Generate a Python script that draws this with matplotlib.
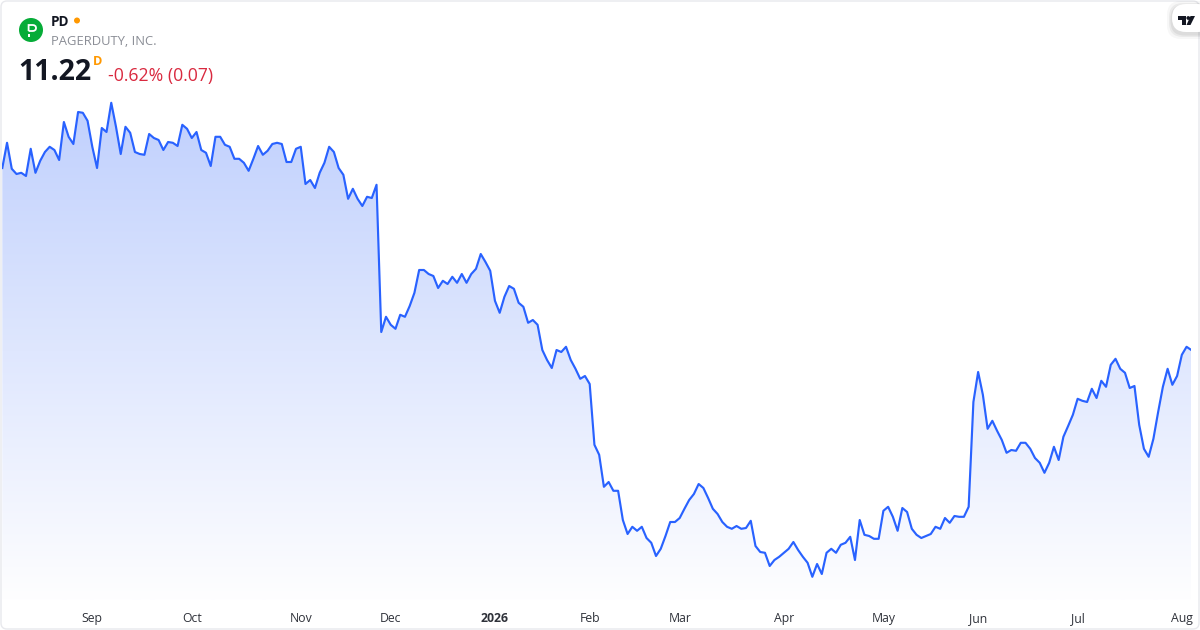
import numpy as np
import matplotlib
matplotlib.use("Agg")
import matplotlib.pyplot as plt
from matplotlib.patches import Circle, FancyBboxPatch, PathPatch, Polygon, Rectangle
from matplotlib.path import Path

plt.rcParams['font.family'] = ['Open Sans', 'DejaVu Sans']

ticker = "PD"
company = "PAGERDUTY, INC."
last_price = "11.22"
change_text = "-0.62% (0.07)"

# daily closes
closes_sep_nov = [
    15.77, 16.40, 15.75, 15.62, 15.65, 15.57, 16.25, 15.65, 15.95, 16.17,
    16.30, 16.22, 15.97, 16.92, 16.55, 16.37, 17.17, 17.15, 16.95, 16.30,
    15.77, 16.77, 16.67, 17.40, 16.80, 16.12, 16.80, 16.65, 16.17, 16.12,
    16.10, 16.62, 16.52, 16.47, 16.22, 16.42, 16.40, 16.32, 16.85, 16.75,
    16.52, 16.67, 16.22, 16.15, 15.82, 16.55, 16.55, 16.35, 16.30, 16.00,
    16.00, 15.90, 15.70, 16.00, 16.32, 16.10, 16.20, 16.37, 16.40, 16.37,
    15.92, 15.92, 16.25, 16.30, 15.37, 15.47, 15.27, 15.65, 15.90, 16.30,
    16.17, 15.77, 15.60, 15.00, 15.25, 15.00, 14.82, 15.05, 15.02, 15.35,
]
closes_dec_jan = [
    11.67, 12.05, 11.85, 11.75, 12.10, 12.05, 12.32, 12.65, 13.22, 13.22,
    13.12, 13.07, 12.77, 12.95, 12.87, 13.05, 12.90, 13.12, 12.90, 13.12,
    13.25, 13.62, 13.42, 13.20, 12.45, 12.15, 12.55, 12.82, 12.75, 12.40,
    12.30, 11.90, 11.97, 11.85, 11.22, 10.97, 10.77, 11.22, 11.17, 11.30,
    10.97, 10.75, 10.50, 10.57, 10.37,
]
closes_feb_may = [
    8.85, 8.60, 7.80, 7.92, 7.70, 7.70, 6.97, 6.62, 6.80, 6.70,
    6.80, 6.52, 6.40, 6.07, 6.25, 6.57, 6.92, 6.92, 7.02, 7.25,
    7.47, 7.62, 7.87, 7.77, 7.52, 7.25, 7.12, 6.92, 6.80, 6.75,
    6.82, 6.75, 6.77, 6.95, 6.32, 6.17, 6.15, 5.82, 5.97, 6.05,
    6.15, 6.25, 6.42, 6.22, 6.05, 5.90, 5.55, 5.87, 5.62, 6.15,
    6.25, 6.15, 6.35, 6.40, 6.55, 5.97, 6.97, 6.60, 6.57, 6.50,
    6.50, 7.20, 7.30, 7.05, 6.70, 7.27,
]
closes_may_aug = [
    7.17, 6.75, 6.60, 6.52, 6.57, 6.62, 6.80, 6.75, 7.02, 6.90,
    7.07, 7.05, 7.05, 7.30, 9.92, 10.67, 10.10, 9.25, 9.45, 9.20,
    8.97, 8.65, 8.72, 8.70, 8.90, 8.90, 8.75, 8.52, 8.40, 8.15,
    8.40, 8.80, 8.47, 9.05, 9.32, 9.60, 10.00, 9.95, 9.92, 10.25,
    10.02, 10.45, 10.30, 10.85, 11.00, 10.75, 10.65, 10.27, 10.32, 9.35,
    8.75, 8.55, 9.00, 9.67, 10.30, 10.75, 10.35, 10.57, 11.10, 11.30,
    11.22,
]
closes = closes_sep_nov + closes_dec_jan + closes_feb_may + closes_may_aug

# bar index where each month label sits
month_bars = [19, 40, 63, 82, 104, 124, 143, 165, 186, 206, 227, 249]
month_labels = ["Sep", "Oct", "Nov", "Dec", "2026", "Feb", "Mar", "Apr", "May", "Jun", "Jul", "Aug"]

LINE_COLOR = "#2962ff"
W, H = 1200, 630


def draw_area(ax, bars, values, bottom, y_top):
    """Line with a fill that fades from blue to almost white going down."""
    ramp = np.linspace(0, 1, 256)[:, None]
    top_rgb = np.array([192, 208, 253]) / 255
    low_rgb = np.array([254, 254, 255]) / 255
    image = top_rgb + (low_rgb - top_rgb) * ramp
    image = image[:, None, :].reshape(256, 1, 3)
    grad = ax.imshow(image, extent=(bars[0], bars[-1], bottom, y_top),
                     aspect="auto", origin="upper", zorder=1)
    verts = [(bars[0], bottom)] + list(zip(bars, values)) + [(bars[-1], bottom)]
    clip = Polygon(verts, closed=True, transform=ax.transData, facecolor="none", edgecolor="none")
    ax.add_patch(clip)
    grad.set_clip_path(clip)
    ax.plot(bars, values, color=LINE_COLOR, lw=1.55, solid_joinstyle="round", zorder=3)


def draw_logo(ov):
    """Green PagerDuty disc with the outlined P and its dot."""
    ov.add_patch(Circle((31, 30), 12, facecolor="#06ac38", edgecolor="none"))
    bowl = Path([(28.6, 31), (28.6, 25), (32.5, 25), (36, 25), (36, 28), (36, 31), (32.5, 31), (28.6, 31)],
                [Path.MOVETO, Path.LINETO, Path.LINETO, Path.CURVE3, Path.CURVE3,
                 Path.CURVE3, Path.CURVE3, Path.LINETO])
    ov.add_patch(PathPatch(bowl, facecolor="none", edgecolor="white", lw=1.3))
    ov.add_patch(Rectangle((27.8, 33.6), 1.9, 2.9, facecolor="white", edgecolor="none"))


def draw_header(ov):
    """Symbol, company, last price and the small logos, in pixel coordinates."""
    ov.add_patch(FancyBboxPatch((1, 1), W - 2, H - 2, boxstyle="round,pad=0,rounding_size=6",
                                facecolor="none", edgecolor="#e8e9ed", lw=1.0))
    draw_logo(ov)

    ov.text(51, 21.5, ticker, color="#131722", fontsize=9.8, fontweight="bold", ha="left", va="center")
    ov.add_patch(Circle((77, 20.5), 3, facecolor="#ff9800", edgecolor="none"))
    ov.text(51, 41.5, company, color="#8b8e96", fontsize=9.35, ha="left", va="center")

    ov.text(18.5, 73, last_price, color="#131722", fontsize=20.5, fontweight="bold", ha="left", va="center")
    ov.text(93, 61.5, "D", color="#ff9800", fontsize=9.2, fontweight="bold", ha="left", va="center")
    ov.text(108, 75.5, change_text, color="#d9293f", fontsize=12.7, ha="left", va="center")

    # white pill with a soft shadow behind the TV mark
    for grow, alpha in [(5, 0.03), (3, 0.05), (1.5, 0.06)]:
        ov.add_patch(FancyBboxPatch((1172 - grow, 4 - grow + 2), 40 + 2 * grow, 28 + 2 * grow,
                                    boxstyle="round,pad=0,rounding_size=14",
                                    facecolor="black", edgecolor="none", alpha=alpha))
    ov.add_patch(FancyBboxPatch((1172, 4), 40, 28, boxstyle="round,pad=0,rounding_size=14",
                                facecolor="white", edgecolor="none"))
    mark = [
        [(1177.5, 16), (1186, 16), (1186, 25), (1181.5, 25), (1181.5, 19.8), (1177.5, 19.8)],
        [(1190.5, 16), (1195, 16), (1190.5, 25), (1186.5, 25)],
    ]
    for pts in mark:
        ov.add_patch(PathPatch(Path(pts + [pts[0]]), facecolor="#131722", edgecolor="none"))
    ov.add_patch(Circle((1188.3, 18), 1.9, facecolor="#131722", edgecolor="none"))


def main():
    fig = plt.figure(figsize=(W / 100, H / 100), dpi=100, facecolor="white")

    # chart area: first bar at x=2px, last at x=1191px, whole height of the card
    ax = fig.add_axes([2.3 / W, 0, 1189 / W, 1])
    bars = np.arange(len(closes))
    values = np.array(closes)
    ax.set_xlim(0, len(closes) - 1)
    ax.set_ylim(4.22, 19.97)
    draw_area(ax, bars, values, 4.97, 17.4)
    ax.axis("off")

    # month labels, placed by bar index and pinned near the bottom edge
    for bar, label in zip(month_bars, month_labels):
        weight = "bold" if label == "2026" else "normal"
        ax.text(bar, 4.51, label, color="#2f323a", fontsize=8.8, fontweight=weight,
                ha="center", va="center", zorder=5)

    ov = fig.add_axes([0, 0, 1, 1], facecolor="none")
    ov.set_xlim(0, W)
    ov.set_ylim(H, 0)
    ov.axis("off")
    draw_header(ov)

    fig.savefig("out.png", dpi=100)


if __name__ == "__main__":
    main()
